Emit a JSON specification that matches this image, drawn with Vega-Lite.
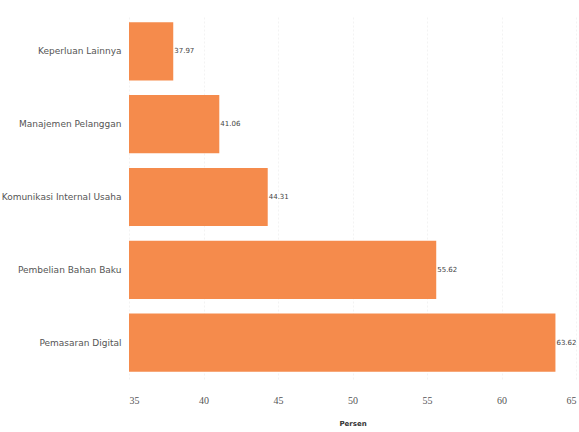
{
  "$schema": "https://vega.github.io/schema/vega-lite/v6.json",
  "autosize": "none",
  "width": 447,
  "height": 364,
  "padding": {"left": 129, "top": 15, "right": 3, "bottom": 53},
  "background": "white",
  "data": {"values": [
    {"kategori": "Keperluan Lainnya", "persen": 37.97},
    {"kategori": "Manajemen Pelanggan", "persen": 41.06},
    {"kategori": "Komunikasi Internal Usaha", "persen": 44.31},
    {"kategori": "Pembelian Bahan Baku", "persen": 55.62},
    {"kategori": "Pemasaran Digital", "persen": 63.62}
  ]},
  "config": {
    "view": {"stroke": null},
    "font": "DejaVu Sans",
    "axis": {"labelColor": "#555555", "titleColor": "#333333", "domain": false, "ticks": false}
  },
  "encoding": {
    "y": {"field": "kategori", "type": "nominal", "sort": {"field": "persen", "order": "ascending"},
      "scale": {"paddingInner": 0.2, "paddingOuter": 0.1},
      "axis": {"title": null, "labelFontSize": 9, "labelPadding": 8, "grid": false, "labelLimit": 200}},
    "x": {"field": "persen", "type": "quantitative",
      "scale": {"domain": [35, 65], "nice": false, "zero": false, "clamp": false},
      "axis": {"title": "Persen", "titleFontSize": 7, "titleFontWeight": "bold", "titlePadding": 14, "values": [35, 40, 45, 50, 55, 60, 65], "labelFontSize": 10, "labelPadding": 16, "grid": true, "gridColor": "#f3f3f3", "gridDash": [2, 2], "labelFont": "Liberation Serif"}}
  },
  "layer": [
    {"mark": {"type": "bar", "color": "#F58B4C", "clip": true}},
    {"mark": {"type": "text", "align": "left", "dx": 1, "fontSize": 7, "color": "#444444"},
      "encoding": {"text": {"field": "persen", "type": "quantitative", "format": ".2f"}}}
  ]
}
